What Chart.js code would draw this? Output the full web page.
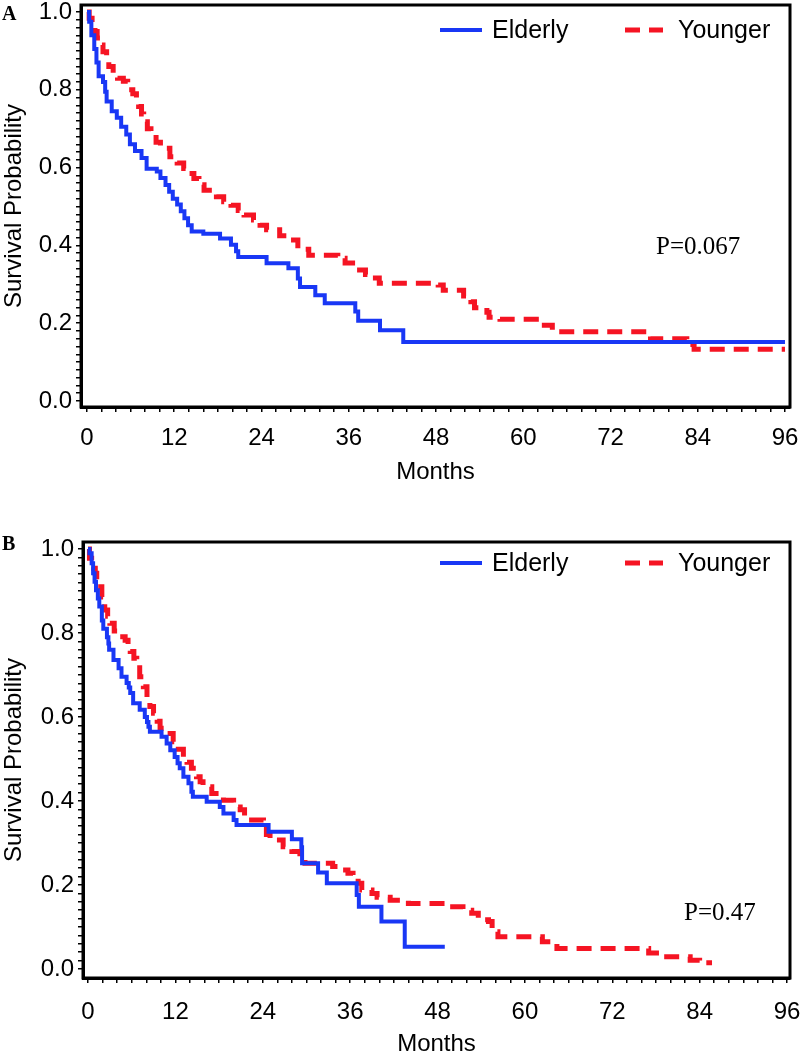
<!DOCTYPE html>
<html>
<head>
<meta charset="utf-8">
<script src="https://cdn.jsdelivr.net/npm/chart.js@4.4.1/dist/chart.umd.min.js"></script>
<style>
    body { margin: 0; background: #fff; }
    #wrap { position: relative; width: 800px; height: 1059px; overflow: hidden; }
    canvas { position: absolute; left: 0; }
    #chartA { top: 0; }
    #chartB { top: 500px; }
    .panel { position: absolute; left: 2px; font: bold 20px 'Liberation Serif', 'Times New Roman', serif; }
    .pval { position: absolute; font: 25px 'Liberation Serif', 'Times New Roman', serif; }
</style>
</head>
<body>
<div id="wrap">
    <canvas id="chartA" width="800" height="500"></canvas>
    <canvas id="chartB" width="800" height="559"></canvas>
    <div class="panel" style="top:2px">A</div>
    <div class="panel" style="top:532px">B</div>
    <div class="pval" style="left:656px;top:232px">P=0.067</div>
    <div class="pval" style="left:684px;top:898px">P=0.47</div>
</div>
<script>
// 目盛り（ラベル付き）と副目盛りの間隔
const monthLabels = [0, 12, 24, 36, 48, 60, 72, 84, 96];
const probLabels = [0.0, 0.2, 0.4, 0.6, 0.8, 1.0];
const monthMinorStep = 2;
const probMinorStep = 0.02;

const seriesNames = ['Elderly', 'Younger'];

// パネルA：月数と生存率
const elderlyA_t = [0, 0.3, 0.6, 1.0, 1.3, 1.6, 2.2, 2.5, 2.7, 3.4, 4.1, 4.7, 5.4, 5.9, 6.6, 7.5, 8.2, 9.6, 10.1, 10.8, 11.3, 11.8, 12.4, 12.9, 13.4, 13.9, 14.4, 16.0, 18.3, 19.8, 20.5, 20.8, 24.7, 27.7, 29.0, 29.3, 31.4, 32.7, 36.9, 37.3, 40.3, 43.5, 96];
const elderlyA_s = [1.0, 0.975, 0.94, 0.905, 0.87, 0.835, 0.82, 0.795, 0.77, 0.745, 0.728, 0.705, 0.685, 0.66, 0.643, 0.625, 0.597, 0.59, 0.573, 0.555, 0.538, 0.52, 0.505, 0.488, 0.47, 0.452, 0.436, 0.43, 0.418, 0.402, 0.385, 0.37, 0.354, 0.341, 0.315, 0.293, 0.272, 0.251, 0.23, 0.206, 0.182, 0.152, 0.152];
const youngerA_t = [0, 0.3, 0.7, 1.1, 1.4, 1.8, 2.2, 2.7, 3.0, 3.6, 4.2, 5.0, 5.6, 6.3, 6.8, 7.1, 7.5, 7.8, 8.3, 8.8, 9.5, 10.1, 11.4, 12.4, 13.3, 14.0, 14.7, 15.4, 16.1, 17.8, 18.8, 19.8, 20.8, 21.6, 22.9, 23.8, 24.7, 26.5, 27.6, 29.0, 30.5, 34.5, 35.5, 37.1, 38.3, 39.0, 40.2, 48.3, 49.0, 51.8, 52.8, 53.3, 55.0, 55.3, 56.8, 61.8, 64.0, 77.5, 82.5, 83.5, 96];
const youngerA_s = [1.0, 0.984, 0.97, 0.95, 0.933, 0.915, 0.898, 0.875, 0.86, 0.84, 0.83, 0.822, 0.80, 0.79, 0.772, 0.757, 0.738, 0.718, 0.70, 0.684, 0.665, 0.65, 0.628, 0.612, 0.598, 0.585, 0.572, 0.556, 0.542, 0.525, 0.512, 0.503, 0.49, 0.478, 0.465, 0.452, 0.44, 0.425, 0.414, 0.39, 0.375, 0.367, 0.355, 0.337, 0.325, 0.316, 0.303, 0.298, 0.285, 0.27, 0.255, 0.24, 0.228, 0.215, 0.21, 0.195, 0.178, 0.16, 0.145, 0.133, 0.133];

// パネルB：月数と生存率
const elderlyB_t = [0, 0.2, 0.5, 0.7, 0.9, 1.1, 1.35, 1.55, 1.9, 2.1, 2.6, 2.8, 2.9, 3.5, 4.2, 4.6, 5.3, 5.6, 5.8, 6.2, 7.1, 7.8, 8.1, 8.3, 8.5, 10.1, 10.8, 11.3, 11.9, 12.3, 12.6, 13.1, 13.8, 14.2, 14.4, 16.3, 18.1, 18.6, 20.0, 20.4, 24.8, 28.0, 29.3, 29.4, 31.6, 32.8, 36.9, 37.2, 40.3, 43.5, 49.0];
const elderlyB_s = [1.0, 0.99, 0.966, 0.942, 0.922, 0.902, 0.882, 0.863, 0.83, 0.81, 0.79, 0.775, 0.76, 0.736, 0.716, 0.696, 0.681, 0.67, 0.657, 0.633, 0.617, 0.60, 0.588, 0.577, 0.565, 0.553, 0.537, 0.521, 0.505, 0.49, 0.478, 0.458, 0.442, 0.422, 0.41, 0.398, 0.386, 0.37, 0.355, 0.343, 0.327, 0.309, 0.29, 0.252, 0.23, 0.204, 0.176, 0.148, 0.113, 0.053, 0.053];
const youngerB_t = [0, 0.2, 0.5, 0.8, 1.0, 1.2, 1.4, 1.9, 2.1, 2.3, 2.7, 3.0, 3.6, 4.2, 5.1, 5.5, 5.8, 6.3, 6.7, 7.1, 7.6, 8.1, 8.5, 9.0, 9.5, 9.9, 10.6, 11.7, 12.4, 13.1, 13.6, 14.2, 14.9, 15.4, 15.8, 17.0, 18.6, 20.0, 20.9, 21.5, 22.0, 24.1, 24.5, 25.0, 26.8, 28.0, 29.1, 29.8, 33.6, 34.3, 35.7, 36.4, 37.1, 37.6, 39.0, 39.7, 41.5, 44.0, 49.7, 51.5, 52.7, 53.6, 55.0, 55.5, 56.3, 62.4, 64.4, 77.0, 78.6, 82.7, 84.0, 85.7];
const youngerB_s = [1.0, 0.978, 0.966, 0.954, 0.942, 0.926, 0.91, 0.886, 0.87, 0.855, 0.84, 0.823, 0.805, 0.791, 0.783, 0.77, 0.756, 0.74, 0.724, 0.696, 0.672, 0.64, 0.625, 0.609, 0.59, 0.573, 0.561, 0.541, 0.523, 0.505, 0.492, 0.478, 0.458, 0.446, 0.434, 0.418, 0.402, 0.386, 0.379, 0.365, 0.355, 0.343, 0.32, 0.307, 0.291, 0.28, 0.268, 0.252, 0.244, 0.236, 0.228, 0.22, 0.204, 0.188, 0.18, 0.171, 0.164, 0.156, 0.148, 0.14, 0.133, 0.117, 0.113, 0.089, 0.077, 0.065, 0.049, 0.038, 0.029, 0.021, 0.015, 0.015];

const BLUE = 'rgb(25, 55, 245)';
const RED = 'rgb(245, 20, 35)';
const FONT = "'Liberation Sans', Arial, sans-serif";

Chart.defaults.font.family = FONT;
Chart.defaults.font.size = 24;
Chart.defaults.color = '#000';

function toPoints(ts, ss) {
    return ts.map((t, i) => ({ x: t, y: ss[i] }));
}

// 副目盛りを含む目盛り一覧
function tickList(labels, step) {
    const first = labels[0];
    const last = labels[labels.length - 1];
    const n = Math.round((last - first) / step);
    const out = [];
    for (let i = 0; i <= n; i++) out.push({ value: +(first + i * step).toFixed(4) });
    return out;
}

function isLabel(labels, v) {
    return labels.some(l => Math.abs(l - v) < 1e-6);
}

// 枠線
const framePlugin = {
    id: 'frame',
    afterDraw(chart) {
        const a = chart.chartArea;
        const ctx = chart.ctx;
        ctx.save();
        ctx.strokeStyle = '#000';
        ctx.lineWidth = 3;
        ctx.strokeRect(a.left, a.top, a.right - a.left, a.bottom - a.top);
        ctx.restore();
    }
};

// グラフ内の凡例
const insideLegend = {
    id: 'insideLegend',
    afterDraw(chart, args, opts) {
        const a = chart.chartArea;
        const ctx = chart.ctx;
        const y = a.top + opts.dy;
        ctx.save();
        chart.data.datasets.forEach((ds, i) => {
            const item = opts.items[i];
            ctx.beginPath();
            ctx.strokeStyle = ds.borderColor;
            ctx.lineWidth = ds.borderWidth;
            ctx.setLineDash(ds.borderDash || []);
            ctx.moveTo(a.right - item.line, y);
            ctx.lineTo(a.right - item.line + item.len, y);
            ctx.stroke();
            ctx.setLineDash([]);
            ctx.fillStyle = '#000';
            ctx.font = '25px ' + FONT;
            ctx.textBaseline = 'middle';
            ctx.fillText(ds.label, a.right - item.text, y + 1);
        });
        ctx.restore();
    }
};

function makeChart(id, p) {
    return new Chart(document.getElementById(id), {
        type: 'line',
        data: {
            datasets: [
                {
                    label: seriesNames[0],
                    data: toPoints(p.elderlyT, p.elderlyS),
                    borderColor: BLUE,
                    borderWidth: 4,
                    stepped: true,
                    pointRadius: 0,
                    fill: false
                },
                {
                    label: seriesNames[1],
                    data: toPoints(p.youngerT, p.youngerS),
                    borderColor: RED,
                    borderWidth: 5,
                    borderDash: [15, 9],
                    stepped: true,
                    pointRadius: 0,
                    fill: false
                }
            ]
        },
        options: {
            responsive: false,
            animation: false,
            layout: { padding: p.padding },
            scales: {
                x: {
                    type: 'linear',
                    min: p.xMin,
                    max: p.xMax,
                    afterBuildTicks: s => { s.ticks = tickList(monthLabels, monthMinorStep); },
                    afterFit: s => { s.height = p.xAxisHeight; s.paddingLeft = 0; s.paddingRight = 0; },
                    ticks: {
                        autoSkip: false,
                        maxRotation: 0,
                        padding: p.xTickPad,
                        callback: v => isLabel(monthLabels, v) ? String(v) : ''
                    },
                    grid: { drawOnChartArea: false, drawTicks: true, tickLength: 5, color: '#000', lineWidth: 1.5 },
                    border: { display: true, color: '#000', width: 3 },
                    title: { display: true, text: 'Months', padding: { top: 0, bottom: p.xTitlePad } }
                },
                y: {
                    min: p.yMin,
                    max: p.yMax,
                    afterBuildTicks: s => { s.ticks = tickList(probLabels, probMinorStep); },
                    afterFit: s => { s.width = p.yAxisWidth; s.paddingTop = 0; s.paddingBottom = 0; },
                    ticks: {
                        autoSkip: false,
                        padding: 4,
                        callback: v => isLabel(probLabels, v) ? v.toFixed(1) : ''
                    },
                    grid: { drawOnChartArea: false, drawTicks: true, tickLength: 5, color: '#000', lineWidth: 1.5 },
                    border: { display: true, color: '#000', width: 3 },
                    title: { display: true, text: 'Survival Probability', padding: { top: 0, bottom: 0 } }
                }
            },
            plugins: {
                legend: { display: false },
                tooltip: { enabled: false },
                insideLegend: {
                    dy: p.legendDy,
                    items: [
                        { line: 350, len: 42, text: 298 },
                        { line: 165, len: 38, text: 112 }
                    ]
                }
            }
        },
        plugins: [framePlugin, insideLegend]
    });
}

makeChart('chartA', {
    elderlyT: elderlyA_t, elderlyS: elderlyA_s,
    youngerT: youngerA_t, youngerS: youngerA_s,
    xMin: -0.825, xMax: 96.69, yMin: -0.0154, yMax: 1.018,
    padding: { top: 5, right: 10, bottom: 13, left: 0 },
    yAxisWidth: 81, xAxisHeight: 80, xTickPad: 12, xTitlePad: 0,
    legendDy: 25
});

makeChart('chartB', {
    elderlyT: elderlyB_t, elderlyS: elderlyB_s,
    youngerT: youngerB_t, youngerS: youngerB_s,
    xMin: -0.687, xMax: 96.41, yMin: -0.0214, yMax: 1.0167,
    padding: { top: 42, right: 10, bottom: 0, left: 0 },
    yAxisWidth: 83, xAxisHeight: 81, xTickPad: 15, xTitlePad: 0,
    legendDy: 21
});
</script>
</body>
</html>
